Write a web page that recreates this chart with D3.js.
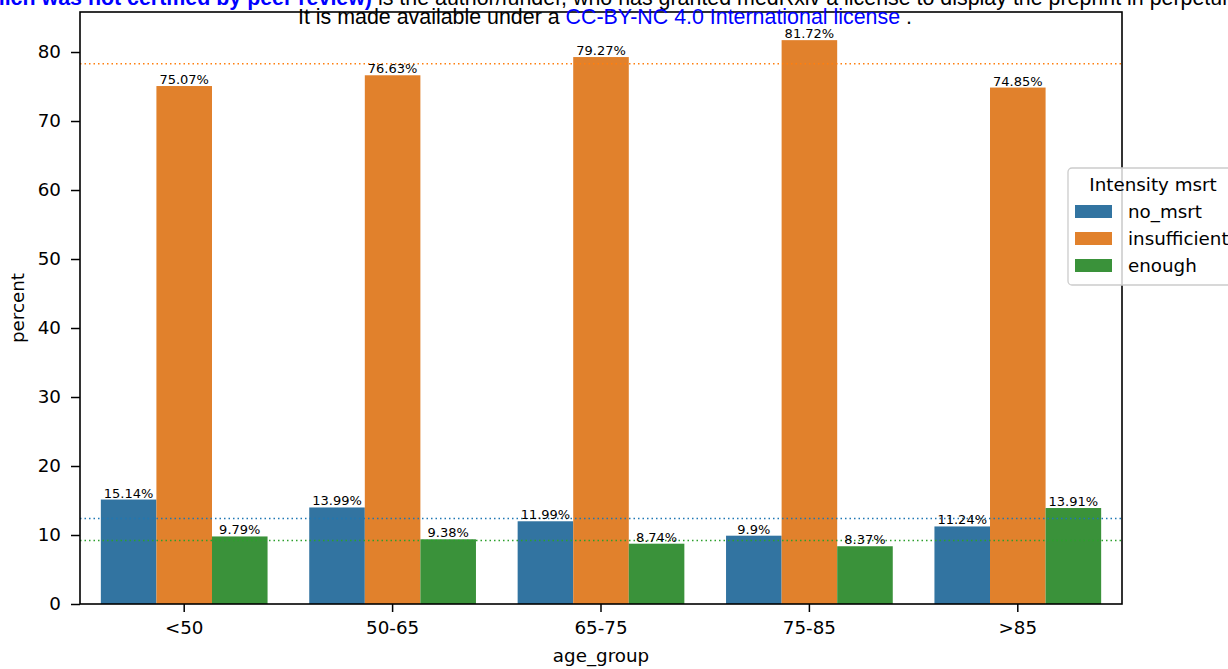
<!DOCTYPE html>
<html><head><meta charset="utf-8">
<script src="https://cdn.jsdelivr.net/npm/d3@7"></script>
<style>body{margin:0;background:#fff}svg{display:block}</style>
</head><body><svg id="c" width="1228" height="669"></svg>
<script>
const categories = ["<50","50-65","65-75","75-85",">85"];
const seriesNames = ["no_msrt","insufficient","enough"];
const noMsrt = [15.14,13.99,11.99,9.9,11.24];
const insufficient = [75.07,76.63,79.27,81.72,74.85];
const enough = [9.79,9.38,8.74,8.37,13.91];
const meanLines = [12.4,78.3,9.2];
const yTicks = [0,10,20,30,40,50,60,70,80];
const barColors = ["#3274a1","#e1812c","#3a923a"];
const lineColors = ["#1f77b4","#ff7f0e","#2ca02c"];
const seriesValues = [noMsrt, insufficient, enough];

const svg = d3.select("#c");
const L=80,R=1122,T=12,B=604;
const font = "DejaVu Sans, sans-serif";
const fs = 18.3;
const y = d3.scaleLinear().domain([0,85.8]).range([B,T]);
const x = d3.scaleBand().domain(categories).range([L,R]).paddingInner(0.2).paddingOuter(0.1);
const xs = d3.scaleBand().domain(seriesNames).range([0,x.bandwidth()]);

// bars
seriesNames.forEach((s,si)=>{
  const g = svg.append("g");
  g.selectAll("rect").data(categories).join("rect")
    .attr("x",c=>x(c)+xs(s)).attr("width",xs.bandwidth())
    .attr("y",(c,i)=>y(seriesValues[si][i])).attr("height",(c,i)=>B-y(seriesValues[si][i]))
    .attr("fill",barColors[si]);
});
// mean lines
svg.append("g").selectAll("line").data(meanLines).join("line")
  .attr("x1",L).attr("x2",R).attr("y1",d=>y(d)).attr("y2",d=>y(d))
  .attr("stroke",(d,i)=>lineColors[i]).attr("stroke-width",1.4).attr("stroke-dasharray","1.5,3");
// bar labels
seriesNames.forEach((s,si)=>{
  svg.append("g").selectAll("text").data(categories).join("text")
    .attr("x",c=>x(c)+xs(s)+xs.bandwidth()/2).attr("y",(c,i)=>y(seriesValues[si][i])-2)
    .attr("text-anchor","middle").attr("font-family",font).attr("font-size",13).attr("fill","#000")
    .text((c,i)=>seriesValues[si][i]+"%");
});
// axes
const ya = svg.append("g").attr("transform",`translate(${L},0)`).call(d3.axisLeft(y).tickValues(yTicks).tickSize(9).tickPadding(10));
const xa = svg.append("g").attr("transform",`translate(0,${B})`).call(d3.axisBottom(x).tickSize(8).tickPadding(9));
[ya,xa].forEach(a=>{a.select(".domain").remove();a.selectAll("text").attr("font-family",font).attr("font-size",fs).attr("fill","#000");a.selectAll("line").attr("stroke","#000").attr("stroke-width",1.5);});
svg.append("rect").attr("x",L).attr("y",T).attr("width",R-L).attr("height",B-T).attr("fill","none").attr("stroke","#000").attr("stroke-width",1.6);
svg.append("text").attr("x",(L+R)/2).attr("y",662).attr("text-anchor","middle").attr("font-family",font).attr("font-size",fs).text("age_group");
svg.append("text").attr("transform",`translate(24,${(T+B)/2}) rotate(-90)`).attr("text-anchor","middle").attr("font-family",font).attr("font-size",fs).text("percent");

// legend
const lg = svg.append("g");
lg.append("rect").attr("x",1068).attr("y",168).attr("width",180).attr("height",117).attr("rx",4)
  .attr("fill","#fff").attr("fill-opacity",0.8).attr("stroke","#ccc").attr("stroke-width",1.3);
lg.append("text").attr("x",1153).attr("y",191).attr("text-anchor","middle").attr("font-family",font).attr("font-size",fs).text("Intensity msrt");
seriesNames.forEach((s,i)=>{
  lg.append("rect").attr("x",1075).attr("y",205+i*27).attr("width",37).attr("height",13).attr("fill",barColors[i]);
  lg.append("text").attr("x",1128).attr("y",218+i*27).attr("font-family",font).attr("font-size",fs).text(s);
});

// header text
const hf = "Liberation Sans, Arial, sans-serif";
const t1 = svg.append("text").attr("x",0).attr("y",5).attr("font-family",hf).attr("font-size",21.4);
const b1 = t1.append("tspan").attr("fill","#0000ff").attr("font-weight","bold").text("hich was not certified by peer review)");
t1.append("tspan").attr("fill","#000").text(" is the author/funder, who has granted medRxiv a license to display the preprint in perpetuity.");
const bw = b1.node().getComputedTextLength();
t1.attr("x",372-bw);
const t2 = svg.append("text").attr("x",605).attr("y",24).attr("text-anchor","middle").attr("font-family",hf).attr("font-size",21.4);
t2.append("tspan").attr("fill","#000").text("It is made available under a ");
t2.append("tspan").attr("fill","#0000ff").text("CC-BY-NC 4.0 International license");
t2.append("tspan").attr("fill","#000").text(" .");
</script></body></html>
